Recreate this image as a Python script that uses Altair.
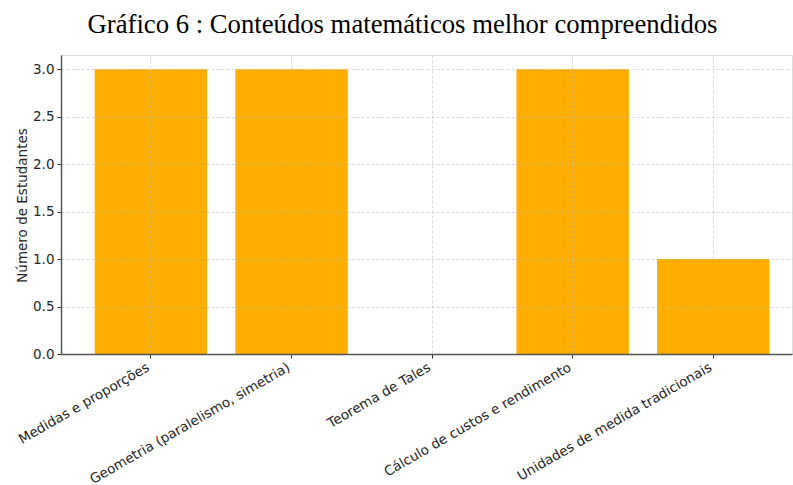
import altair as alt
import pandas as pd

# Mathematical topics and how many students understood each best
topics = [
    "Medidas e proporções",
    "Geometria (paralelismo, simetria)",
    "Teorema de Tales",
    "Cálculo de custos e rendimento",
    "Unidades de medida tradicionais",
]
students = [3, 3, 0, 3, 1]
y_ticks = [0.0, 0.5, 1.0, 1.5, 2.0, 2.5, 3.0]

df = pd.DataFrame({"topic": topics, "students": students})

grid_style = dict(
    grid=True,
    gridColor="#b0b0b0",
    gridOpacity=0.6,
    gridDash=[3, 2],
    gridWidth=0.8,
    domainColor="#555555",
    domainWidth=1.5,
    tickColor="#333333",
    tickSize=4,
    zindex=1,
)

chart = (
    alt.Chart(df)
    .mark_bar(color="#FFAE00")
    .encode(
        x=alt.X(
            "topic:N",
            sort=topics,
            title=None,
            scale=alt.Scale(paddingInner=0.2, paddingOuter=0.2, align=0.6),
            axis=alt.Axis(
                labelAngle=-30,
                labelAlign="right",
                labelBaseline="top",
                labelPadding=2,
                labelOffset=-6,
                labelFontSize=13.5,
                labelFont="DejaVu Sans",
                labelColor="#262626",
                labelLimit=400,
                **grid_style,
            ),
        ),
        y=alt.Y(
            "students:Q",
            title="Número de Estudantes",
            scale=alt.Scale(domain=[0, 3.15], nice=False, zero=True),
            axis=alt.Axis(
                values=y_ticks,
                format=".1f",
                labelFontSize=13.5,
                labelFont="DejaVu Sans",
                labelColor="#262626",
                labelPadding=3,
                titleFont="DejaVu Sans",
                titleFontSize=13.5,
                titleFontWeight="normal",
                titleColor="#262626",
                titleX=-32,
                titleY=150,
                titleAngle=-90,
                titleBaseline="bottom",
                titleAlign="center",
                **grid_style,
            ),
        ),
    )
    .properties(
        width=731,
        height=299,
        autosize=alt.AutoSizeParams(type="none"),
        padding={"left": 61, "top": 55, "right": 1, "bottom": 131},
        title=alt.TitleParams(
            "Gráfico 6 : Conteúdos matemáticos melhor compreendidos",
            font="Liberation Serif",
            fontSize=26.7,
            fontWeight="normal",
            color="#000000",
            anchor="middle",
            baseline="alphabetic",
            offset=-5,
            dx=-24,
        ),
    )
    .configure_view(stroke=None)
    .configure(background="white")
)

chart.save("out.html", embed_options={"renderer": "svg", "actions": False})
